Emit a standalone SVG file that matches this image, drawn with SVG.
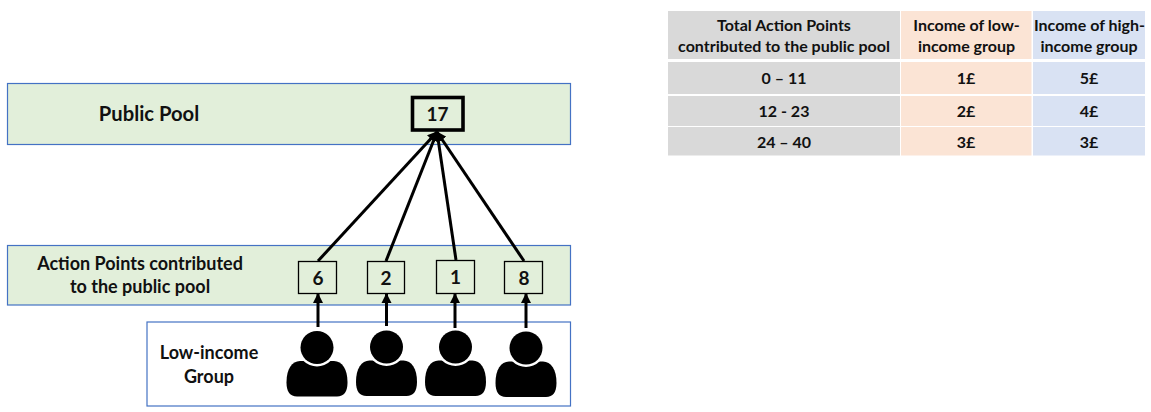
<svg xmlns="http://www.w3.org/2000/svg" width="1151" height="412" viewBox="0 0 1151 412">
<style>
text{font-family:Lato,Carlito,"Open Sans",sans-serif;font-weight:700;fill:#111;text-anchor:middle}
.band{fill:#e2efda;stroke:#4472c4;stroke-width:1.2}
.white{fill:#fff;stroke:#4472c4;stroke-width:1.2}
.val{fill:#e2efda;stroke:#000;stroke-width:1.3}
.c{stroke:#000;fill:none}
.t{font-size:16px}
.l{font-size:18px}
.n{font-size:19px}
.g{fill:#d9d9d9}.o{fill:#fbe4d5}.b{fill:#d9e2f3}
</style>
<defs>
<marker id="ah" viewBox="0 0 10 10" refX="9" refY="5" markerWidth="3.400" markerHeight="3.400" orient="auto"><path d="M0 0L10 5L0 10Z" fill="#000"/></marker>
<g id="person">
<path d="M-17 13.500C-25 14-30.500 21-30.500 35C-30.500 44-27 49-20 49L20 49C27 49 30.500 44 30.500 35C30.500 21 25 14 17 13.500Z" fill="#000"/>
<circle r="19" fill="#fff"/>
<circle r="16.500" fill="#000"/>
</g>
</defs>
<g id="public-pool"><rect class="band" x="7.500" y="83.500" width="563" height="61"/><text x="149" y="121" font-size="20.200">Public Pool</text></g>
<g id="action-points"><rect class="band" x="7.500" y="245.500" width="563" height="59.500"/><text class="l" x="140" y="270">Action Points contributed</text><text class="l" x="140" y="293">to the public pool</text></g>
<g id="low-income-group"><rect class="white" x="147" y="322" width="423.500" height="84"/><text class="l" x="209" y="359">Low-income</text><text class="l" x="209" y="383">Group</text></g>
<g id="total"><rect x="412.500" y="97.500" width="50.500" height="32.500" fill="#e2efda" stroke="#000" stroke-width="3.600"/><text class="n" x="437.500" y="121">17</text></g>
<g id="val-6"><rect class="val" x="298.500" y="261.500" width="38" height="32"/><text class="n" x="318" y="285">6</text></g>
<g id="val-2"><rect class="val" x="367.500" y="261.500" width="37" height="32"/><text class="n" x="386" y="285">2</text></g>
<g id="val-1"><rect class="val" x="436.500" y="260.500" width="38" height="33"/><text class="n" x="455.500" y="284">1</text></g>
<g id="val-8"><rect class="val" x="504.500" y="261.500" width="38" height="32"/><text class="n" x="524" y="285">8</text></g>
<g id="connectors">
<g class="c" stroke-width="3">
<line x1="318" y1="261" x2="437" y2="132" marker-end="url(#ah)"/>
<line x1="386" y1="261" x2="437" y2="132" marker-end="url(#ah)"/>
<line x1="456" y1="260" x2="437" y2="132" marker-end="url(#ah)"/>
<line x1="524" y1="261" x2="437" y2="132" marker-end="url(#ah)"/>
<line x1="318" y1="327" x2="318" y2="294" marker-end="url(#ah)"/>
<line x1="386.500" y1="326" x2="386.500" y2="294" marker-end="url(#ah)"/>
<line x1="455" y1="328" x2="455" y2="294" marker-end="url(#ah)"/>
<line x1="526" y1="328" x2="526" y2="294" marker-end="url(#ah)"/>
</g>
</g>
<g id="person-1"><use href="#person" x="317" y="347.500"/></g>
<g id="person-2"><use href="#person" x="386.500" y="347"/></g>
<g id="person-3"><use href="#person" x="455.500" y="347"/></g>
<g id="person-4"><use href="#person" x="526" y="348"/></g>
<g id="table">
<rect class="g" x="668" y="11" width="232" height="48"/><rect class="o" x="901" y="11" width="130.500" height="48"/><rect class="b" x="1033" y="11" width="112" height="48"/>
<rect class="g" x="668" y="62" width="232" height="32"/><rect class="o" x="901" y="62" width="130.500" height="32"/><rect class="b" x="1033" y="62" width="112" height="32"/>
<rect class="g" x="668" y="96" width="232" height="30"/><rect class="o" x="901" y="96" width="130.500" height="30"/><rect class="b" x="1033" y="96" width="112" height="30"/>
<rect class="g" x="668" y="127" width="232" height="28.500"/><rect class="o" x="901" y="127" width="130.500" height="28.500"/><rect class="b" x="1033" y="127" width="112" height="28.500"/>
<text class="t" x="784" y="31">Total Action Points</text><text class="t" x="784" y="52">contributed to the public pool</text>
<text class="t" x="966.500" y="31">Income of low-</text><text class="t" x="966.500" y="52">income group</text>
<text class="t" x="1089.500" y="31">Income of high-</text><text class="t" x="1089" y="52">income group</text>
<text class="t" x="784" y="84">0 – 11</text><text class="t" x="966" y="84">1£</text><text class="t" x="1089" y="84">5£</text>
<text class="t" x="784" y="117">12 - 23</text><text class="t" x="966" y="117">2£</text><text class="t" x="1089" y="117">4£</text>
<text class="t" x="784" y="148">24 – 40</text><text class="t" x="966" y="148">3£</text><text class="t" x="1089" y="148">3£</text>
</g>
</svg>
